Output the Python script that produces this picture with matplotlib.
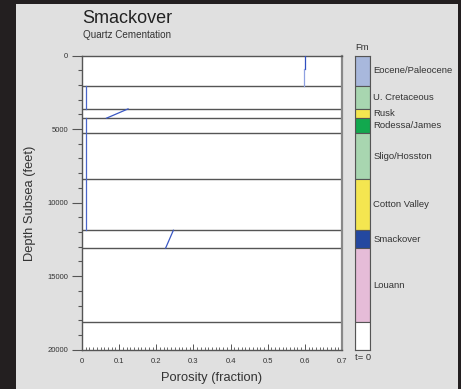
import matplotlib
matplotlib.use("Agg")
import matplotlib.pyplot as plt
from matplotlib.patches import Rectangle
from matplotlib.ticker import MultipleLocator

plt.rcParams['font.family'] = ['Liberation Sans', 'DejaVu Sans']

# Formation column data (depth tops/bottoms in feet)
formations = ["Eocene/Paleocene", "U. Cretaceous", "Rusk", "Rodessa/James",
              "Sligo/Hosston", "Cotton Valley", "Smackover", "Louann", ""]
tops = [0, 2060, 3630, 4260, 5280, 8410, 11880, 13100, 18120]
bottoms = [2060, 3630, 4260, 5280, 8410, 11880, 13100, 18120, 20000]
fm_colors = ["#a8b8dc", "#a8d6b0", "#f4e650", "#12a84e", "#a8d6b0",
             "#f4e650", "#2448a0", "#e6bcd8", "#ffffff"]

# Boundaries drawn across the porosity panel
boundaries = [2060, 3630, 4260, 5280, 8410, 11880, 13100, 18120]

# Porosity curves (fraction) vs depth (feet), one per segment
seg_depths = [
    [0, 900],
    [900, 2060],
    [2060, 3630],
    [3630, 4260],
    [4260, 11880],
    [11880, 13100],
]
seg_porosity = [
    [0.600, 0.600],
    [0.597, 0.597],
    [0.011, 0.011],
    [0.124, 0.066],
    [0.011, 0.011],
    [0.246, 0.225],
]
seg_colors = ["#2f4fc0", "#8ea0e0", "#4a66c8", "#3a58c4", "#4a66c8", "#3a58c4"]

xticks = [0, 0.1, 0.2, 0.3, 0.4, 0.5, 0.6, 0.7]
xticklabels = ["0", "0.1", "0.2", "0.3", "0.4", "0.5", "0.6", "0.7"]
yticks = [0, 5000, 10000, 15000, 20000]
yticklabels = ["0", "5000", "10000", "15000", "20000"]

W, H = 461, 389
fig = plt.figure(figsize=(W / 100, H / 100), dpi=100)
fig.patch.set_facecolor("#231f20")
fig.add_artist(Rectangle((16 / W, 0), (458 - 16) / W, 1 - 4 / H,
                         transform=fig.transFigure, facecolor="#e0e0e0",
                         edgecolor="none", zorder=0))

ax_l, ax_r = 82 / W, 342 / W
ax_t, ax_b = 1 - 55.5 / H, 1 - 349.7 / H
ax = fig.add_axes([ax_l, ax_b, ax_r - ax_l, ax_t - ax_b])
ax.set_facecolor("white")
ax.set_xlim(0, 0.7)
ax.set_ylim(20000, 0)

for b in boundaries:
    ax.axhline(b, color="#555555", lw=1.0, zorder=2)

for d, p, c in zip(seg_depths, seg_porosity, seg_colors):
    ax.plot(p, d, color=c, lw=0.9, zorder=3)

for side in ["left", "top", "bottom"]:
    ax.spines[side].set_color("#555555")
    ax.spines[side].set_linewidth(1.0)
ax.spines["right"].set_color("#888888")
ax.spines["right"].set_linewidth(1.6)

ax.set_xticks(xticks)
ax.set_xticklabels(xticklabels)
ax.set_yticks(yticks)
ax.set_yticklabels(yticklabels)
ax.xaxis.set_minor_locator(MultipleLocator(0.01))
ax.yaxis.set_minor_locator(MultipleLocator(1000))
ax.tick_params(axis="x", which="major", direction="in", length=4, width=0.7,
               color="#555555", labelsize=5.5, pad=6, labelcolor="#333333")
ax.tick_params(axis="x", which="minor", direction="in", length=2.2, width=0.6,
               color="#555555")
ax.tick_params(axis="y", which="major", direction="out", length=7, width=0.8,
               color="#555555", labelsize=5.5, pad=3, labelcolor="#333333")
ax.tick_params(axis="y", which="minor", direction="out", length=3, width=0.8,
               color="#555555")

fig.text(212 / W, 1 - 378 / H, "Porosity (fraction)", ha="center", va="center",
         fontsize=9.3, color="#333333")
fig.text(30.5 / W, 1 - 203 / H, "Depth Subsea (feet)", ha="center", va="center",
         rotation=90, fontsize=9.3, color="#333333")

fig.text(82 / W, 1 - 18.5 / H, "Smackover", ha="left", va="center",
         fontsize=13, color="#222222")
fig.text(82.5 / W, 1 - 35 / H, "Quartz Cementation", ha="left", va="center",
         fontsize=7.1, color="#333333")

# Formation column
cx_l, cx_r = 355.3 / W, 370.3 / W
cax = fig.add_axes([cx_l, ax_b, cx_r - cx_l, ax_t - ax_b])
cax.set_xlim(0, 1)
cax.set_ylim(20000, 0)
for t, b, c, name in zip(tops, bottoms, fm_colors, formations):
    cax.bar(0.5, b - t, bottom=t, width=1.0, color=c, edgecolor="#555555",
            linewidth=0.8)
    if name:
        cax.text(1.2, (t + b) / 2, name, ha="left", va="center",
                 fontsize=6.8, color="#333333", clip_on=False)
cax.set_xticks([])
cax.set_yticks([])
for s in cax.spines.values():
    s.set_color("#555555")
    s.set_linewidth(0.8)

fig.text(355 / W, 1 - 48 / H, "Fm", ha="left", va="center", fontsize=6.8,
         color="#333333")
fig.text(355 / W, 1 - 357.5 / H, "t= 0", ha="left", va="center", fontsize=6.8,
         color="#333333")

fig.savefig("out.png", dpi=100, facecolor=fig.get_facecolor())
